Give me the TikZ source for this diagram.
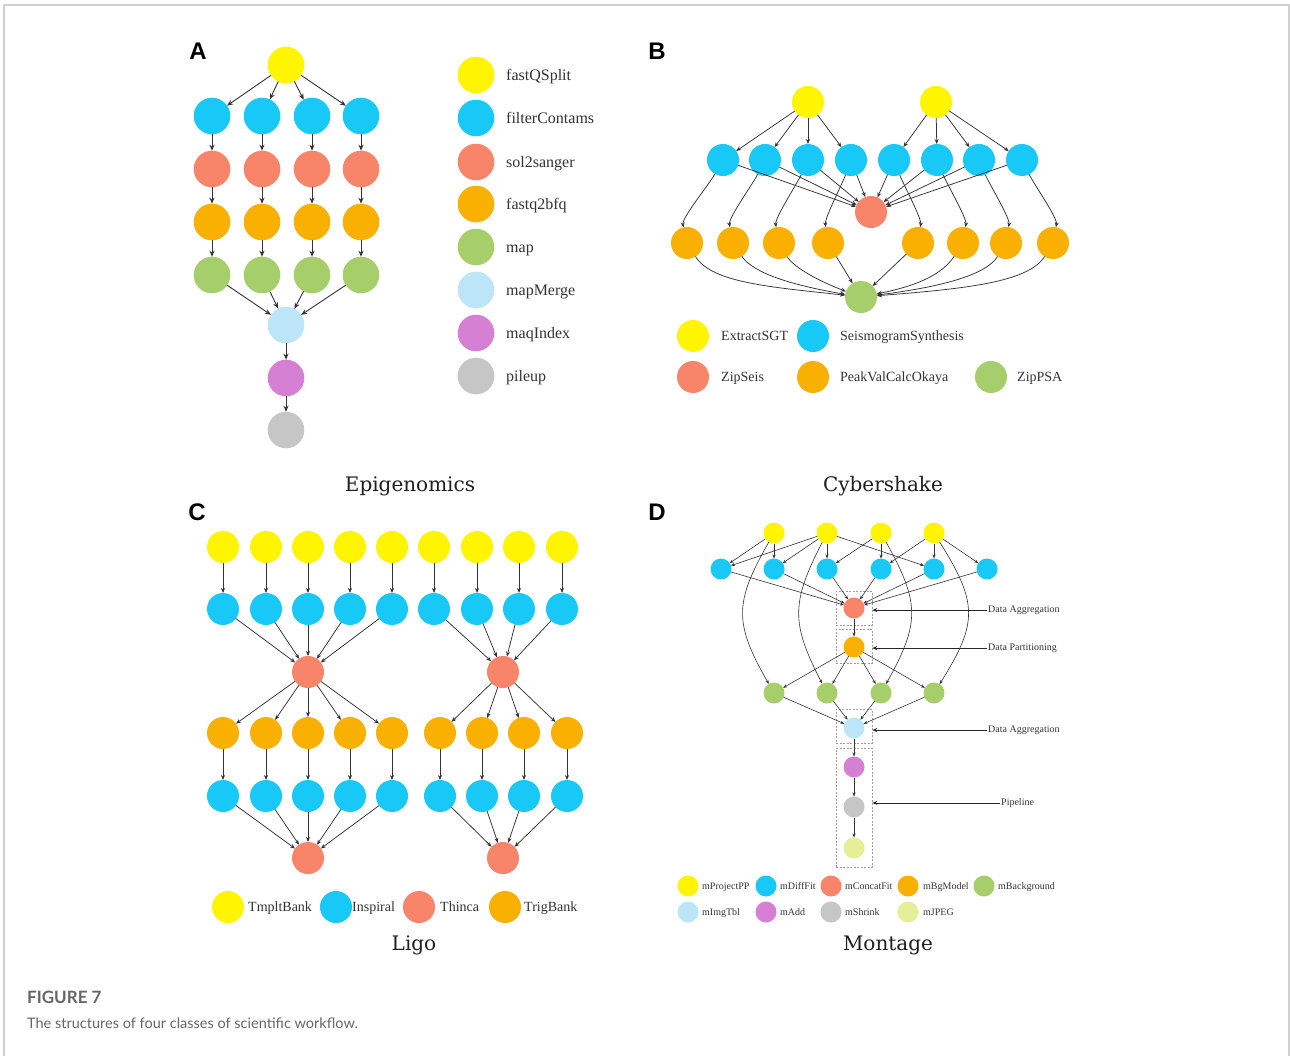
\documentclass[tikz,border=0pt]{standalone}
\usepackage{fontspec}
\setmainfont{Liberation Serif}
\newfontfamily\titlefont{DejaVu Serif}
\newfontfamily\capfont{Lato}
\newfontfamily\letterfont{Liberation Sans}
\usetikzlibrary{arrows.meta}
\definecolor{cY}{HTML}{FFF500}
\definecolor{cB}{HTML}{18C8F6}
\definecolor{cR}{HTML}{F8846A}
\definecolor{cO}{HTML}{F9B000}
\definecolor{cG}{HTML}{A6CE6A}
\definecolor{cLB}{HTML}{BDE5F8}
\definecolor{cM}{HTML}{D580D2}
\definecolor{cGr}{HTML}{C6C6C6}
\definecolor{cLY}{HTML}{E6EE98}
\definecolor{edgec}{HTML}{333333}
\definecolor{txtc}{HTML}{333333}
\definecolor{framec}{HTML}{D0D0D0}
\definecolor{capc}{HTML}{666666}
\begin{document}
\begin{tikzpicture}[x=1pt,y=-1pt,
  base/.style={circle,inner sep=0pt,outer sep=0pt,draw=none},
  na/.style={base,minimum size=36.6pt},
  nb/.style={base,minimum size=32pt},
  nd/.style={base,minimum size=21pt},
  ea/.style={draw=edgec,line width=0.9pt,-{Stealth[length=6pt,width=5pt]}},
  eb/.style={draw=edgec,line width=0.75pt,-{Stealth[length=5pt,width=4pt]}},
  ed/.style={draw=edgec,line width=0.6pt,-{Stealth[length=4pt,width=3.2pt]}},
  el/.style={draw=black!85,line width=0.8pt,-{Stealth[length=5pt,width=4pt]}},
  lt/.style={anchor=base west,inner sep=0pt,text=txtc},
  lta/.style={lt,font=\fontsize{16}{18}\selectfont,yshift=-5.3pt},
  ltb/.style={lt,font=\fontsize{14}{16}\selectfont,yshift=-4.6pt},
  ltd/.style={lt,font=\fontsize{10}{12}\selectfont,yshift=-3.3pt},
  ttl/.style={anchor=base,inner sep=0pt,text=black!88,font=\titlefont\fontsize{20}{24}\selectfont},
  plet/.style={anchor=base,inner sep=0pt,font=\letterfont\bfseries\fontsize{24}{28}\selectfont},
  dbox/.style={rectangle,draw=gray!75,dash pattern=on 2pt off 1.5pt,line width=0.6pt,minimum width=36pt,inner sep=0pt}
]
\useasboundingbox (0,0) rectangle (1290,1055);
\fill[white] (0,0) rectangle (1290,1055);
\draw[framec,line width=1.5pt] (4,1060) -- (4,5) -- (1289,5) -- (1289,1060);

% ---------------- Panel A ----------------
\node[plet] (LA) at (198,59) {A};
\node[na,fill=cY] (a1) at (286,65) {};
\foreach \i/\x in {1/212,2/262,3/312,4/361}{
  \node[na,fill=cB] (a2\i) at (\x,116) {};
  \node[na,fill=cR] (a3\i) at (\x,169) {};
  \node[na,fill=cO] (a4\i) at (\x,222) {};
  \node[na,fill=cG] (a5\i) at (\x,275) {};
}
\node[na,fill=cLB] (a6) at (286,325) {};
\node[na,fill=cM] (a7) at (286,378) {};
\node[na,fill=cGr] (a8) at (286,430) {};
\foreach \i in {1,...,4}{
  \draw[ea] (a1) -- (a2\i);
  \draw[ea] (a2\i) -- (a3\i);
  \draw[ea] (a3\i) -- (a4\i);
  \draw[ea] (a4\i) -- (a5\i);
  \draw[ea] (a5\i) -- (a6);
}
\draw[ea] (a6) -- (a7);
\draw[ea] (a7) -- (a8);
\foreach \t/\c/\y [count=\k] in {fastQSplit/cY/75,filterContams/cB/118,sol2sanger/cR/162,fastq2bfq/cO/204,map/cG/247,mapMerge/cLB/290,maqIndex/cM/333,pileup/cGr/376}{
  \node[na,fill=\c] (lac\k) at (476,\y) {};
  \node[lta] (lat\k) at (506,\y) {\t};
}
\node[ttl] (TA) at (410,491) {Epigenomics};

% ---------------- Panel B ----------------
\node[plet] (LB) at (657,59) {B};
\node[nb,fill=cY] (b11) at (808,102) {};
\node[nb,fill=cY] (b12) at (936,102) {};
\node[nb,fill=cR] (br) at (871,212) {};
\node[nb,fill=cG] (bg) at (861,297) {};
\foreach \i/\x/\xo in {1/723/687,2/765/733,3/808/779,4/851/828,5/894/918,6/937/963,7/979/1006,8/1022/1053}{
  \node[nb,fill=cB] (b2\i) at (\x,160) {};
  \node[nb,fill=cO] (b3\i) at (\xo,243) {};
}
\foreach \i in {1,...,4}{ \draw[eb] (b11) -- (b2\i); }
\foreach \i in {5,...,8}{ \draw[eb] (b12) -- (b2\i); }
\foreach \i in {1,...,8}{ \draw[eb] (b2\i) -- (br); }
\foreach \i/\dx in {1/-36,2/-32,3/-29,4/-23,5/24,6/26,7/27,8/31}{
  \draw[eb] (b2\i) .. controls +(\dx*0.4,25) and +(\dx*0.15,-25) .. (b3\i);
}
\draw[eb] (b31) .. controls +(25,40) and +(-90,-10) .. (bg);
\draw[eb] (b32) .. controls +(20,30) and +(-70,-12) .. (bg);
\draw[eb] (b33) .. controls +(15,25) and +(-40,-15) .. (bg);
\draw[eb] (b34) -- (bg);
\draw[eb] (b35) -- (bg);
\draw[eb] (b36) .. controls +(-20,30) and +(60,-12) .. (bg);
\draw[eb] (b37) .. controls +(-20,32) and +(80,-10) .. (bg);
\draw[eb] (b38) .. controls +(-25,40) and +(100,-8) .. (bg);
\foreach \t/\c/\x/\tx/\y [count=\k] in {ExtractSGT/cY/693/721/336,SeismogramSynthesis/cB/813/840/336,ZipSeis/cR/693/721/377,PeakValCalcOkaya/cO/813/840/377,ZipPSA/cG/991/1017/377}{
  \node[nb,fill=\c] (lbc\k) at (\x,\y) {};
  \node[ltb] (lbt\k) at (\tx,\y) {\t};
}
\node[ttl] (TB) at (883,491) {Cybershake};

% ---------------- Panel C ----------------
\node[plet] (LC) at (197,520) {C};
\foreach \i/\x in {1/223,2/266,3/308,4/350,5/392,6/434,7/477,8/519,9/562}{
  \node[nb,fill=cY] (c1\i) at (\x,547) {};
  \node[nb,fill=cB] (c2\i) at (\x,609) {};
  \draw[eb] (c1\i) -- (c2\i);
}
\node[nb,fill=cR] (c3a) at (308,672) {};
\node[nb,fill=cR] (c3b) at (503,672) {};
\foreach \i in {1,...,5}{ \draw[eb] (c2\i) -- (c3a); }
\foreach \i in {6,...,9}{ \draw[eb] (c2\i) -- (c3b); }
\foreach \i/\x in {1/223,2/266,3/308,4/350,5/392,6/440,7/482,8/524,9/567}{
  \node[nb,fill=cO] (c4\i) at (\x,733) {};
  \node[nb,fill=cB] (c5\i) at (\x,796) {};
  \draw[eb] (c4\i) -- (c5\i);
}
\node[nb,fill=cR] (c6a) at (308,858) {};
\node[nb,fill=cR] (c6b) at (503,858) {};
\foreach \i in {1,...,5}{ \draw[eb] (c3a) -- (c4\i); \draw[eb] (c5\i) -- (c6a); }
\foreach \i in {6,...,9}{ \draw[eb] (c3b) -- (c4\i); \draw[eb] (c5\i) -- (c6b); }
\foreach \t/\c/\x/\tx [count=\k] in {TmpltBank/cY/228/248,Inspiral/cB/336/352,Thinca/cR/419/440,TrigBank/cO/505/524}{
  \node[nb,fill=\c] (lcc\k) at (\x,907) {};
  \node[ltb] (lct\k) at (\tx,907) {\t};
}
\node[ttl] (TC) at (414,950) {Ligo};

% ---------------- Panel D ----------------
\node[plet] (LD) at (657,520) {D};
\node[dbox,minimum height=34pt] (bx1) at (854,608) {};
\node[dbox,minimum height=34pt] (bx2) at (854,646) {};
\node[dbox,minimum height=34pt] (bx3) at (854,726) {};
\node[dbox,minimum height=119pt] (bx4) at (854,807.5) {};
\foreach \i/\x in {1/774,2/827,3/881,4/934}{
  \node[nd,fill=cY] (d1\i) at (\x,533) {};
  \node[nd,fill=cG] (d5\i) at (\x,693) {};
}
\foreach \i/\x in {1/721,2/774,3/827,4/881,5/934,6/987}{
  \node[nd,fill=cB] (d2\i) at (\x,569) {};
}
\node[nd,fill=cR] (d3) at (854,608) {};
\node[nd,fill=cO] (d4) at (854,647) {};
\node[nd,fill=cLB] (d6) at (854,728) {};
\node[nd,fill=cM] (d7) at (854,767) {};
\node[nd,fill=cGr] (d8) at (854,807) {};
\node[nd,fill=cLY] (d9) at (854,848) {};
\foreach \a/\b in {11/21,11/22,12/21,12/22,12/23,12/25,13/23,13/24,14/24,14/25,14/26}{
  \draw[ed] (d\a) -- (d\b);
}
\draw[ed] (d11) .. controls +(-40,70) and +(-40,-70) .. (d51);
\draw[ed] (d12) .. controls +(-36,70) and +(-36,-70) .. (d52);
\draw[ed] (d13) .. controls +(39,70) and +(39,-70) .. (d53);
\draw[ed] (d14) .. controls +(44,70) and +(44,-70) .. (d54);
\foreach \i in {1,...,6}{ \draw[ed] (d2\i) -- (d3); }
\draw[ed] (d3) -- (d4);
\foreach \i in {1,...,4}{ \draw[ed] (d4) -- (d5\i); \draw[ed] (d5\i) -- (d6); }
\draw[ed] (d6) -- (d7);
\draw[ed] (d7) -- (d8);
\draw[ed] (d8) -- (d9);
\node[ltd] (lb1) at (988,609) {Data Aggregation};
\node[ltd] (lb2) at (988,647) {Data Partitioning};
\node[ltd] (lb3) at (988,729) {Data Aggregation};
\node[ltd] (lb4) at (1001,802) {Pipeline};
\draw[el] ([xshift=-1pt]lb1.west) -- (lb1.west -| bx1.east);
\draw[el] ([xshift=-1pt]lb2.west) -- (lb2.west -| bx2.east);
\draw[el] ([xshift=-1pt]lb3.west) -- (lb3.west -| bx3.east);
\draw[el] ([xshift=-1pt]lb4.west) -- (lb4.west -| bx4.east);
\foreach \t/\c/\x/\tx/\y [count=\k] in {mProjectPP/cY/688/702/886,mDiffFit/cB/766/780/886,mConcatFit/cR/831/845/886,mBgModel/cO/908/923/886,mBackground/cG/984/998/886,mImgTbl/cLB/688/702/912,mAdd/cM/766/780/912,mShrink/cGr/831/845/912,mJPEG/cLY/908/923/912}{
  \node[nd,fill=\c] (ldc\k) at (\x,\y) {};
  \node[ltd] (ldt\k) at (\tx,\y) {\t};
}
\node[ttl] (TD) at (888,950) {Montage};

% ---------------- Caption ----------------
\node[anchor=base west,inner sep=0pt,text=capc,font=\capfont\bfseries\fontsize{17}{20}\selectfont] (fig) at (27,1003) {FIGURE 7};
\node[anchor=base west,inner sep=0pt,text=capc,font=\capfont\fontsize{14.5}{17}\selectfont] (cap) at (27,1028) {The structures of four classes of scientific workflow.};
\end{tikzpicture}
\end{document}
